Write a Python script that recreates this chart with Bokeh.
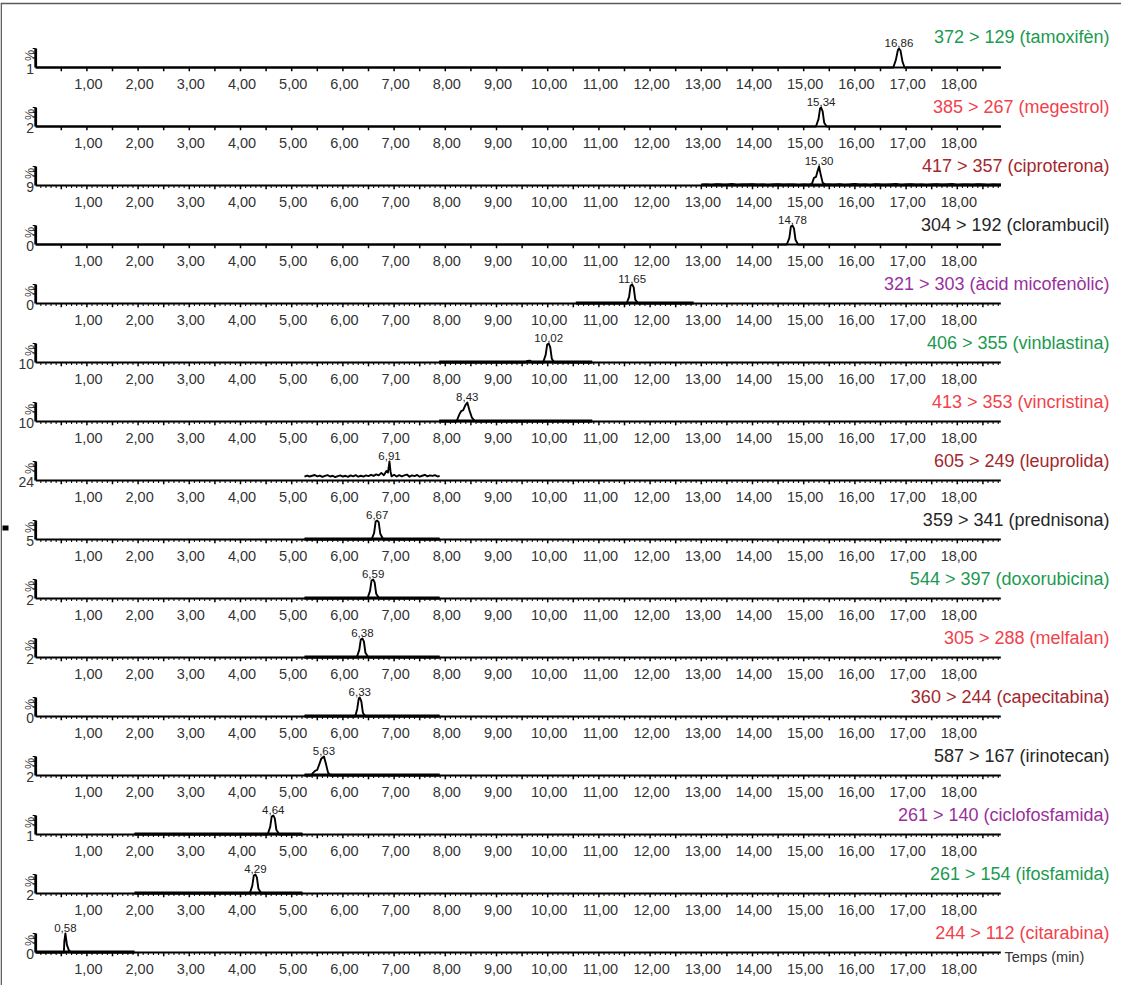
import numpy as np
from bokeh.plotting import figure
from bokeh.models import Range1d
from bokeh.core.properties import value
from bokeh.embed import file_html
from bokeh.resources import INLINE

# ---------------- data ----------------
transitions = ["372 > 129 (tamoxifèn)", "385 > 267 (megestrol)", "417 > 357 (ciproterona)",
               "304 > 192 (clorambucil)", "321 > 303 (àcid micofenòlic)", "406 > 355 (vinblastina)",
               "413 > 353 (vincristina)", "605 > 249 (leuprolida)", "359 > 341 (prednisona)",
               "544 > 397 (doxorubicina)", "305 > 288 (melfalan)", "360 > 244 (capecitabina)",
               "587 > 167 (irinotecan)", "261 > 140 (ciclofosfamida)", "261 > 154 (ifosfamida)",
               "244 > 112 (citarabina)"]
retention = [16.86, 15.34, 15.30, 14.78, 11.65, 10.02, 8.43, 6.91, 6.67, 6.59, 6.38, 6.33, 5.63, 4.64, 4.29, 0.58]
scale_labels = ["1", "2", "9", "0", "0", "10", "10", "24", "5", "2", "2", "0", "2", "1", "2", "0"]
label_colors = ["#1b9a50", "#f0424c", "#a3282e", "#262626", "#9a2f9e", "#1b9a50", "#f0424c", "#a3282e",
                "#262626", "#1b9a50", "#f0424c", "#a3282e", "#262626", "#9a2f9e", "#1b9a50", "#f0424c"]
minor_ticks = [False, False, True, False, True, True, True, True, True, True, True, True, True, True, True, True]
window_bar = [False, False, True, False, True, True, True, False, True, True, True, True, True, True, True, True]
tick_values = [1, 2, 3, 4, 5, 6, 7, 8, 9, 10, 11, 12, 13, 14, 15, 16, 17, 18]
tick_labels = ["1,00", "2,00", "3,00", "4,00", "5,00", "6,00", "7,00", "8,00", "9,00", "10,00",
               "11,00", "12,00", "13,00", "14,00", "15,00", "16,00", "17,00", "18,00"]
time_end = 18.85

# traces (time in min, intensity in %)
t_tamoxifen = [0.0, 16.75, 16.80, 16.84, 16.86, 16.89, 16.93, 16.97, 18.85]
i_tamoxifen = [0, 0, 40, 92, 100, 90, 30, 0, 0]
t_megestrol = [0.0, 15.24, 15.29, 15.32, 15.34, 15.37, 15.40, 15.45, 18.85]
i_megestrol = [0, 0, 40, 95, 100, 80, 20, 0, 0]
t_ciproterona = [13.0, 13.1, 13.2, 13.3, 13.4, 13.5, 13.6, 13.7, 13.8, 13.9, 14.0, 14.1, 14.2, 14.3, 14.4,
                 14.5, 14.6, 14.7, 14.8, 14.9, 15.0, 15.1, 15.16, 15.20, 15.24, 15.27, 15.30, 15.33, 15.37,
                 15.42, 15.5, 15.6, 15.7, 15.8, 15.9, 16.0, 16.1, 16.2, 16.3, 16.4, 16.5, 16.6, 16.7, 16.8,
                 16.9, 17.0, 17.1, 17.2, 17.3, 17.4, 17.5, 17.6, 17.7, 17.8, 17.9, 18.0, 18.1, 18.2, 18.3,
                 18.4, 18.5, 18.6, 18.7, 18.8, 18.85]
i_ciproterona = [4, 6, 3, 7, 5, 4, 8, 3, 6, 5, 7, 4, 6, 3, 5, 7, 4, 6, 5, 3, 6, 4, 8, 40, 45, 75, 100, 60, 15,
                 5, 6, 4, 7, 3, 5, 8, 4, 6, 3, 7, 5, 4, 6, 8, 3, 5, 7, 4, 6, 3, 5, 7, 4, 6, 8, 3, 5, 6, 4,
                 7, 5, 3, 6, 4, 5]
t_clorambucil = [0.0, 14.67, 14.72, 14.75, 14.78, 14.81, 14.84, 14.89, 18.85]
i_clorambucil = [0, 0, 35, 95, 100, 85, 25, 0, 0]
t_micofenolic = [10.55, 11.54, 11.59, 11.62, 11.65, 11.68, 11.71, 11.77, 12.85]
i_micofenolic = [0, 0, 35, 95, 100, 85, 20, 0, 0]
t_vinblastina = [7.88, 9.55, 9.60, 9.65, 9.70, 9.91, 9.96, 9.99, 10.02, 10.05, 10.08, 10.13, 10.87]
i_vinblastina = [0, 0, 8, 10, 0, 0, 40, 95, 100, 80, 20, 0, 0]
t_vincristina = [7.88, 8.22, 8.27, 8.31, 8.35, 8.39, 8.43, 8.47, 8.52, 8.57, 8.62, 10.87]
i_vincristina = [0, 0, 35, 55, 60, 85, 100, 60, 20, 5, 0, 0]
t_leuprolida = [5.25, 5.30, 5.35, 5.40, 5.45, 5.50, 5.55, 5.60, 5.65, 5.70, 5.75, 5.80, 5.85, 5.90, 5.95,
                6.00, 6.05, 6.10, 6.15, 6.20, 6.25, 6.30, 6.35, 6.40, 6.45, 6.50, 6.55, 6.60, 6.65, 6.70,
                6.75, 6.80, 6.85, 6.88, 6.91, 6.93, 6.95, 7.00, 7.05, 7.10, 7.15, 7.20, 7.25, 7.30, 7.35,
                7.40, 7.45, 7.50, 7.55, 7.60, 7.65, 7.70, 7.75, 7.80, 7.85, 7.89]
i_leuprolida = [20, 26, 21, 25, 29, 22, 26, 19, 24, 28, 21, 25, 18, 23, 27, 21, 25, 19, 27, 22, 28, 20, 25,
                21, 27, 23, 30, 24, 32, 27, 40, 28, 50, 42, 100, 48, 22, 30, 21, 28, 22, 27, 31, 20, 27,
                23, 29, 20, 25, 30, 22, 27, 24, 28, 21, 24]
t_prednisona = [5.25, 6.56, 6.61, 6.64, 6.67, 6.70, 6.73, 6.79, 7.89]
i_prednisona = [0, 0, 35, 95, 100, 90, 30, 0, 0]
t_doxorubicina = [5.25, 6.48, 6.53, 6.56, 6.59, 6.62, 6.65, 6.71, 7.89]
i_doxorubicina = [0, 0, 40, 95, 100, 85, 25, 0, 0]
t_melfalan = [5.25, 6.27, 6.32, 6.35, 6.38, 6.41, 6.44, 6.50, 7.89]
i_melfalan = [0, 0, 40, 95, 100, 85, 25, 0, 0]
t_capecitabina = [5.25, 6.24, 6.28, 6.31, 6.33, 6.36, 6.39, 6.44, 7.89]
i_capecitabina = [0, 0, 40, 95, 100, 80, 20, 0, 0]
t_irinotecan = [5.25, 5.38, 5.42, 5.46, 5.50, 5.54, 5.58, 5.63, 5.67, 5.71, 5.76, 7.89]
i_irinotecan = [0, 0, 15, 25, 30, 60, 90, 100, 60, 15, 0, 0]
t_ciclofosfamida = [1.93, 4.53, 4.58, 4.61, 4.64, 4.67, 4.70, 4.76, 5.21]
i_ciclofosfamida = [0, 0, 40, 95, 100, 85, 25, 0, 0]
t_ifosfamida = [1.93, 4.18, 4.23, 4.26, 4.29, 4.32, 4.35, 4.41, 5.21]
i_ifosfamida = [0, 0, 40, 95, 100, 85, 25, 0, 0]
t_citarabina = [0.0, 0.55, 0.56, 0.58, 0.61, 0.65, 0.70, 1.93]
i_citarabina = [0, 0, 60, 100, 40, 10, 0, 0]

traces = [(t_tamoxifen, i_tamoxifen), (t_megestrol, i_megestrol), (t_ciproterona, i_ciproterona),
          (t_clorambucil, i_clorambucil), (t_micofenolic, i_micofenolic), (t_vinblastina, i_vinblastina),
          (t_vincristina, i_vincristina), (t_leuprolida, i_leuprolida), (t_prednisona, i_prednisona),
          (t_doxorubicina, i_doxorubicina), (t_melfalan, i_melfalan), (t_capecitabina, i_capecitabina),
          (t_irinotecan, i_irinotecan), (t_ciclofosfamida, i_ciclofosfamida), (t_ifosfamida, i_ifosfamida),
          (t_citarabina, i_citarabina)]

# ---------------- layout ----------------
W, H = 1121, 985
X0PX, SX = 43.2, 51.2      # pixel of t=0, pixels per minute
Y0PX, SY = 75.0, 59.0      # pixel of first baseline, pixels between panels
PEAK_PX = 19.0             # pixels for 100 %


def xd(px):
    return (px - X0PX) / SX


def yd(py):
    return -(py - Y0PX) / SY


HS = PEAK_PX / SY / 100.0  # data units per %
PX = 1.0 / SY              # one pixel in y data units

FONT = value("Liberation Sans")

p = figure(width=W, height=H, output_backend="svg", toolbar_location=None,
           x_range=Range1d(xd(8), xd(8 + W)), y_range=Range1d(yd(8 + H), yd(8)),
           x_axis_type=None, y_axis_type=None, min_border=0)
p.outline_line_color = None
p.grid.visible = False

# frame lines
p.segment(x0=[xd(8), xd(8.7)], y0=[yd(11), yd(11)], x1=[xd(8 + W), xd(8.7)], y1=[yd(11), yd(8 + H)],
          line_color="#5a5a5a", line_width=1.5)
p.quad(left=[xd(10)], right=[xd(16)], top=[yd(533)], bottom=[yd(538)], fill_color="black", line_color=None)

major = np.arange(0.5, 18.51, 0.5)
minor = np.array([v for v in np.arange(0.1, 18.81, 0.1) if abs(v * 2 - round(v * 2)) > 1e-6])

for k in range(len(transitions)):
    b = -k
    # ticks
    p.segment(x0=major, x1=major, y0=[b] * len(major), y1=[b - 3.8 * PX] * len(major),
              line_color="black", line_width=1.5)
    if minor_ticks[k]:
        p.segment(x0=minor, x1=minor, y0=[b] * len(minor), y1=[b - 2.6 * PX] * len(minor),
                  line_color="#111111", line_width=1.1)
    # axis line
    p.line([0, time_end], [b, b], line_color="black", line_width=2.2)
    # intensity axis
    p.line([0, 0], [b, b + 100 * HS], line_color="black", line_width=2.8)
    p.segment(x0=[0, 0, 0], x1=[xd(X0PX - 3)] * 3, y0=[b + 100 * HS, b + 75 * HS, b + 50 * HS],
              y1=[b + 100 * HS, b + 75 * HS, b + 50 * HS], line_color="black", line_width=1.2)
    # trace
    t, inten = traces[k]
    if window_bar[k]:
        p.line([t[0], t[-1]], [b + 0.7 * PX, b + 0.7 * PX], line_color="black", line_width=2.8)
    p.line(t, [b + v * HS for v in inten], line_color="black", line_width=1.9, line_join="round")
    # peak label
    p.text(x=[retention[k]], y=[b + 100 * HS + 1.5 * PX],
           text=[f"{retention[k]:.2f}".replace(".", ",")], text_align="center", text_baseline="bottom",
           text_font=FONT, text_font_size="11.5px", text_color="#222222")
    # tick labels
    p.text(x=[v + 1.5 / SX for v in tick_values], y=[b - 16 * PX] * len(tick_values), text=tick_labels,
           text_align="center", text_baseline="middle", text_font=FONT, text_font_size="14.5px",
           text_color="#333333")
    # % and scale
    p.text(x=[xd(37.5)], y=[b + 12 * PX], text=["%"], angle=np.pi / 2, text_align="center",
           text_baseline="middle", text_font=FONT, text_font_size="12.5px", text_color="#333333")
    p.text(x=[xd(41.5)], y=[b - 1 * PX], text=[scale_labels[k]], text_align="right", text_baseline="middle",
           text_font=FONT, text_font_size="14px", text_color="#333333")
    # transition label
    off = 31 if k == 0 else 20
    p.text(x=[xd(1117)], y=[b + off * PX], text=[transitions[k]], text_align="right", text_baseline="middle",
           text_font=FONT, text_font_size="18px", text_color=label_colors[k])

p.text(x=[xd(1012)], y=[-(len(transitions) - 1) - 4 * PX], text=["Temps (min)"], text_align="left",
       text_baseline="middle", text_font=FONT, text_font_size="14.5px", text_color="#333333")

open("out.html", "w").write(file_html(p, INLINE))
